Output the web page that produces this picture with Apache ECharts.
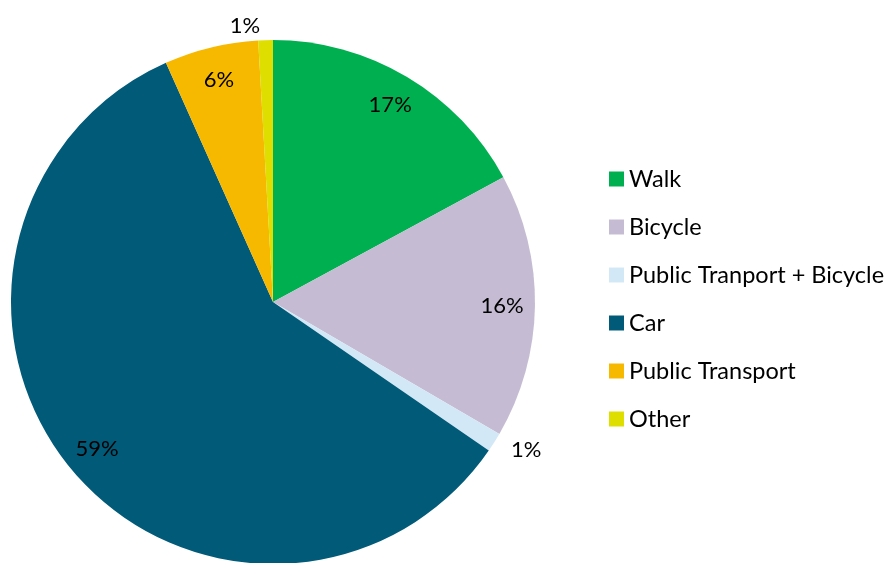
<!DOCTYPE html>
<html>
<head>
<meta charset="utf-8">
<script src="https://cdn.jsdelivr.net/npm/echarts@6/dist/echarts.min.js"></script>
<style>
  html, body { margin: 0; padding: 0; background: #fff; }
  #pieMap { width: 892px; height: 563px; }
</style>
</head>
<body>
<div id="pieMap"></div>
<script>
var categories = ['Walk', 'Bicycle', 'Public Tranport + Bicycle', 'Car', 'Public Transport', 'Other'];
var shares = [17.1, 16.3, 1.2, 58.7, 5.8, 0.9];
var colors = ['#00B050', '#C5BCD4', '#D3E8F6', '#005A78', '#F7B800', '#DEDE00'];
var outsideLabels = ['Public Tranport + Bicycle', 'Other'];

var font = 'Lato, "Liberation Sans", sans-serif';

var pieData = categories.map(function (name, i) {
    return { name: name, value: shares[i], itemStyle: { color: colors[i] } };
});

var labelData = categories.map(function (name, i) {
    var outside = outsideLabels.indexOf(name) >= 0;
    return {
        name: name,
        value: shares[i],
        label: { position: outside ? 'outside' : 'inside' }
    };
});

var pieMap = echarts.init(document.getElementById('pieMap'));

var option = {
    animation: false,
    legend: {
        orient: 'vertical',
        left: 604,
        top: 162,
        itemWidth: 15,
        itemHeight: 15,
        itemGap: 24,
        icon: 'rect',
        textStyle: { fontFamily: font, fontSize: 23.5, lineHeight: 24, color: '#000' },
        data: categories
    },
    series: [
        {
            name: 'Mode',
            type: 'pie',
            center: [273, 302],
            radius: 262,
            startAngle: 90,
            clockwise: true,
            label: { show: false },
            labelLine: { show: false },
            data: pieData
        },
        {
            name: 'Labels',
            type: 'pie',
            center: [273, 302],
            radius: [190, 262],
            startAngle: 90,
            clockwise: true,
            silent: true,
            avoidLabelOverlap: false,
            itemStyle: { color: 'rgba(0,0,0,0)' },
            label: {
                show: true,
                fontFamily: font,
                fontSize: 22,
                color: '#000',
                formatter: function (p) { return Math.round(p.value) + '%'; }
            },
            labelLine: { show: false, length: 14, length2: 0 },
            data: labelData
        }
    ]
};

pieMap.setOption(option);
</script>
</body>
</html>
